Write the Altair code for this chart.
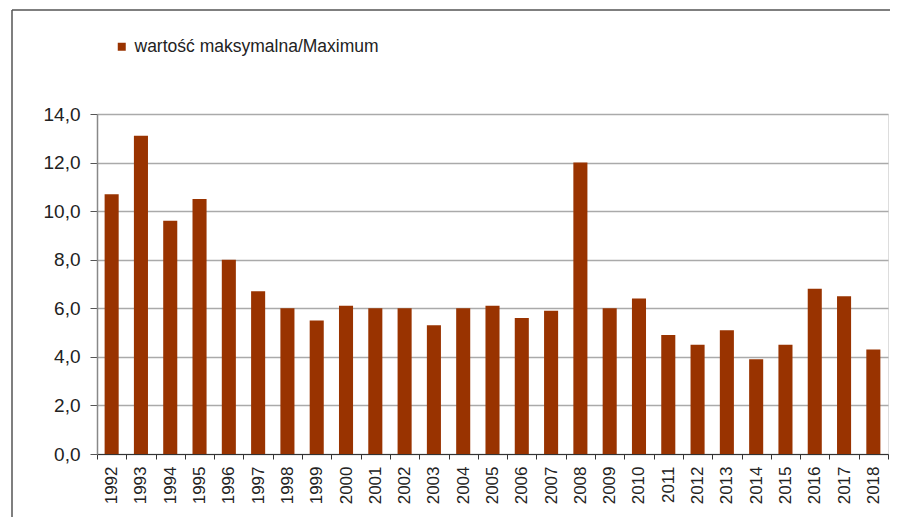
import altair as alt
import pandas as pd

years = [str(y) for y in range(1992, 2019)]
values = [10.7, 13.1, 9.6, 10.5, 8.0, 6.7, 6.0, 5.5, 6.1, 6.0, 6.0, 5.3, 6.0, 6.1,
          5.6, 5.9, 12.0, 6.0, 6.4, 4.9, 4.5, 5.1, 3.9, 4.5, 6.8, 6.5, 4.3]
series = "wartość maksymalna/Maximum"
bar_color = "#993300"

df = pd.DataFrame({"rok": years, "wartosc": values, "seria": [series] * len(years)})

FONT = "Liberation Sans"

one = pd.DataFrame({"a": [0]})
frame_left = alt.Chart(one).mark_rule(stroke="#555555", strokeWidth=1.5, clip=False).encode(
    x=alt.value(-85), y=alt.value(-104), y2=alt.value(403)
)
frame_top = alt.Chart(one).mark_rule(stroke="#555555", strokeWidth=1.5, clip=False).encode(
    x=alt.value(-85), x2=alt.value(799), y=alt.value(-104)
)

bars = alt.Chart(df).mark_bar(width=alt.RelativeBandSize(0.48)).encode(
    x=alt.X("rok:N", sort=years,
            scale=alt.Scale(paddingInner=0, paddingOuter=0),
            axis=alt.Axis(title=None, labelAngle=-90, labelFontSize=17, labelFont=FONT,
                          labelColor="#222222", tickBand="extent", tickSize=5,
                          tickColor="#333333", domainColor="#333333", domainWidth=1.2,
                          labelPadding=7, grid=False, labelBaseline="middle",
                          labelAlign="right")),
    y=alt.Y("wartosc:Q",
            scale=alt.Scale(domain=[0, 14], nice=False),
            axis=alt.Axis(title=None, values=[0, 2, 4, 6, 8, 10, 12, 14],
                          labelExpr="replace(format(datum.value, '.1f'), '.', ',')",
                          labelFontSize=19, labelFont=FONT, labelColor="#222222",
                          tickSize=7, tickColor="#555555", domainColor="#888888",
                          domainWidth=1.5, labelPadding=10,
                          grid=True, gridColor="#aaaaaa", gridWidth=1.5)),
    color=alt.Color("seria:N", scale=alt.Scale(range=[bar_color]),
                    legend=alt.Legend(title=None, orient="none", legendX=16, legendY=-76,
                                      symbolType="square", symbolSize=64,
                                      labelFontSize=17.5, labelFont=FONT, labelLimit=0,
                                      labelColor="#222222", labelOffset=4)),
)

chart = alt.layer(frame_left, frame_top, bars).properties(
    width=791, height=340,
    autosize=alt.AutoSizeParams(type="none"),
    padding={"left": 89, "top": 106, "right": 2, "bottom": 63},
).configure_view(stroke="transparent", strokeWidth=0).configure(background="white")

chart.save("out.html", embed_options={"renderer": "svg", "actions": False})
